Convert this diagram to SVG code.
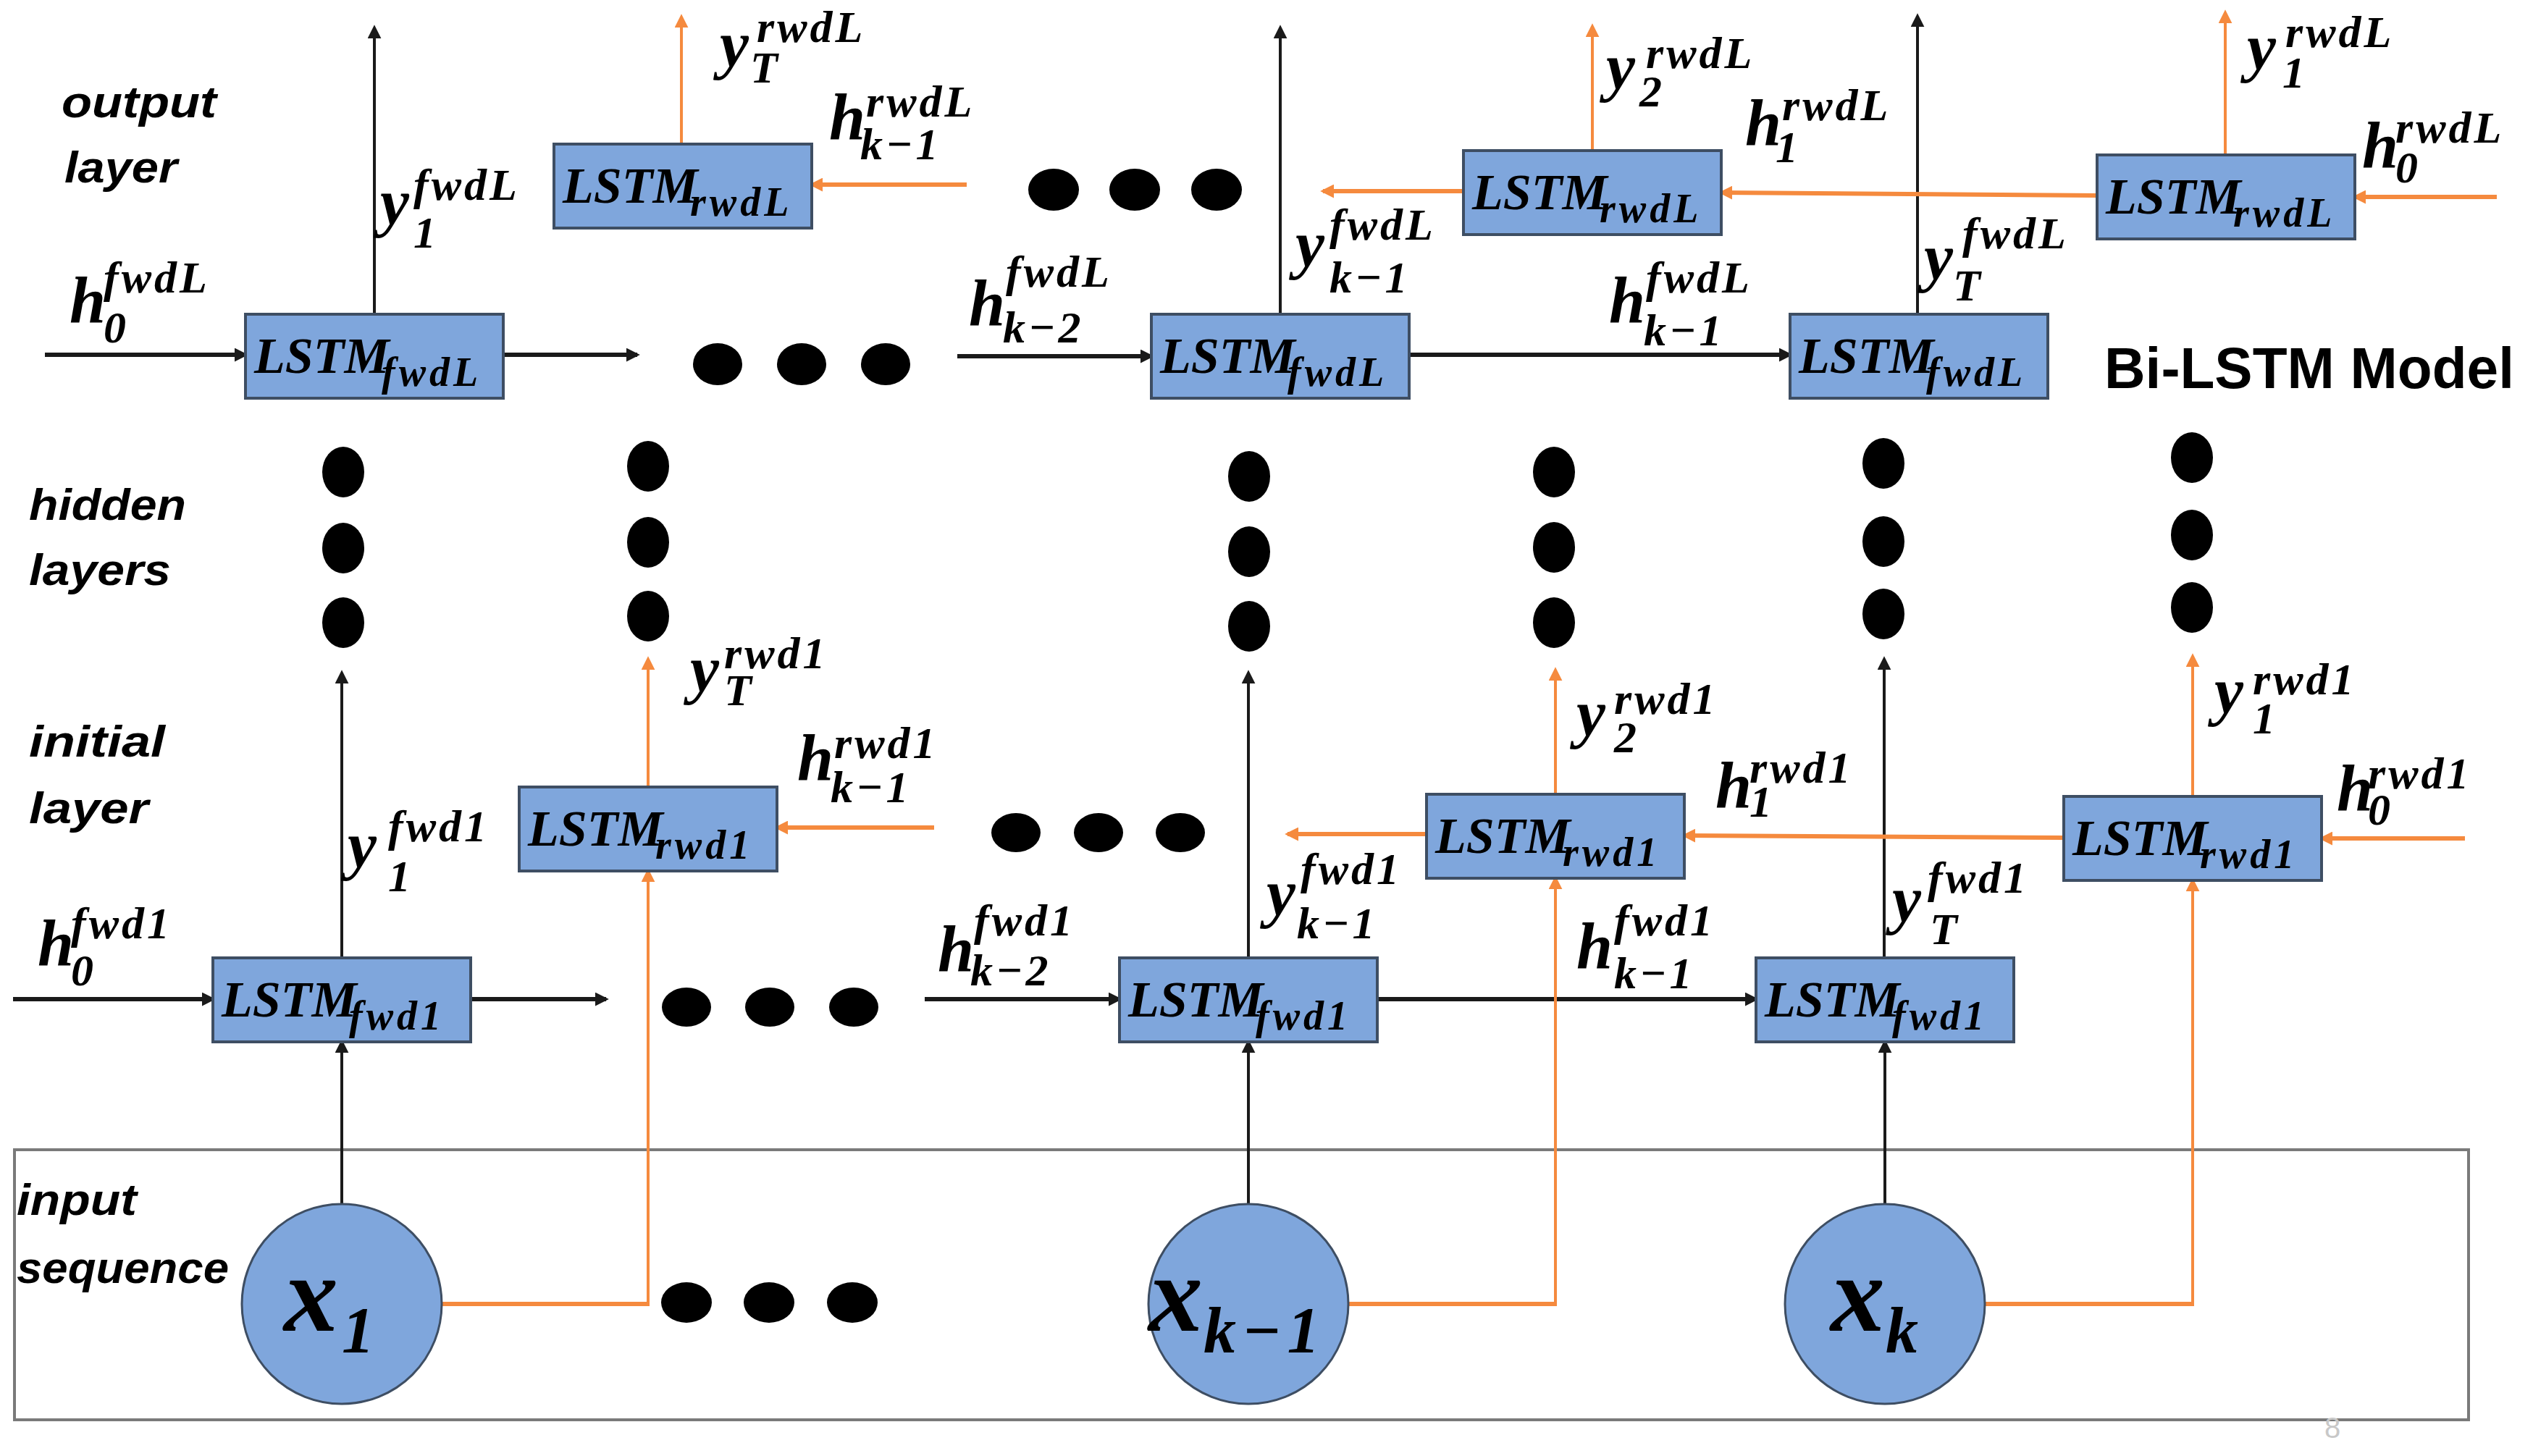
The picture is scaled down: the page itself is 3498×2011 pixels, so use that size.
<svg xmlns="http://www.w3.org/2000/svg" width="3498" height="2011" viewBox="0 0 3498 2011">
<style>
.bg{fill:#ffffff}
.box{fill:#7FA6DC;stroke:#3E4E63;stroke-width:4}
.circ{fill:#7FA6DC;stroke:#3E4E63;stroke-width:3}
.frame{fill:none;stroke:#7a7a7a;stroke-width:4}
.kh{stroke:#1a1a1a;stroke-width:6;fill:none}
.kv{stroke:#1a1a1a;stroke-width:4;fill:none}
.oh{stroke:#F58A3E;stroke-width:6;fill:none}
.ov{stroke:#F58A3E;stroke-width:4;fill:none}
.dot{fill:#000}
.bt{font-family:"Liberation Serif","DejaVu Serif",serif;font-style:italic;font-weight:bold;font-size:70px;fill:#000}
.bs{font-size:56px;letter-spacing:5px}
.m{font-family:"Liberation Serif","DejaVu Serif",serif;font-style:italic;font-weight:bold;font-size:90px;fill:#000}
.s{font-size:62px;letter-spacing:4px}
.x{font-family:"Liberation Serif","DejaVu Serif",serif;font-style:italic;font-weight:bold;font-size:150px;fill:#000}
.xs{font-size:90px;letter-spacing:8px}
.lay{font-family:"Liberation Sans","Arial",sans-serif;font-style:italic;font-weight:bold;font-size:62px;fill:#000}
.title{font-family:"Liberation Sans","Arial",sans-serif;font-weight:bold;font-size:79px;fill:#000}
.pg{font-family:"Liberation Sans",sans-serif;font-size:40px;fill:#c8c8c8}
</style>
<defs>
<marker id="ak" viewBox="0 0 10 10" refX="8" refY="5" markerWidth="19" markerHeight="19" markerUnits="userSpaceOnUse" orient="auto"><path d="M0,0 L10,5 L0,10 z" fill="#1a1a1a"/></marker>
<marker id="ao" viewBox="0 0 10 10" refX="8" refY="5" markerWidth="19" markerHeight="19" markerUnits="userSpaceOnUse" orient="auto"><path d="M0,0 L10,5 L0,10 z" fill="#F58A3E"/></marker>
</defs>
<rect class="bg" x="0" y="0" width="3498" height="2011"/>

<g id="input-frame">
<rect class="frame" x="20" y="1588" width="3389" height="373"/>
</g>

<g id="connectors">
<line class="kh" x1="62" y1="490" x2="339" y2="490" marker-end="url(#ak)"/>
<line class="kh" x1="695" y1="490" x2="880" y2="490" marker-end="url(#ak)"/>
<line class="kh" x1="1322" y1="492" x2="1590" y2="492" marker-end="url(#ak)"/>
<line class="kh" x1="1946" y1="490" x2="2472" y2="490" marker-end="url(#ak)"/>
<line class="kv" x1="517" y1="434" x2="517" y2="38" marker-end="url(#ak)"/>
<line class="kv" x1="1768" y1="434" x2="1768" y2="38" marker-end="url(#ak)"/>
<line class="kv" x1="2648" y1="434" x2="2648" y2="22" marker-end="url(#ak)"/>
<line class="oh" x1="1335" y1="255" x2="1121" y2="255" marker-end="url(#ao)"/>
<line class="oh" x1="2021" y1="264" x2="1827" y2="264" marker-end="url(#ao)"/>
<line class="oh" x1="2896" y1="270" x2="2377" y2="266" marker-end="url(#ao)"/>
<line class="oh" x1="3448" y1="272" x2="3252" y2="272" marker-end="url(#ao)"/>
<line class="ov" x1="941" y1="199" x2="941" y2="23" marker-end="url(#ao)"/>
<line class="ov" x1="2199" y1="208" x2="2199" y2="36" marker-end="url(#ao)"/>
<line class="ov" x1="3073" y1="214" x2="3073" y2="17" marker-end="url(#ao)"/>
<line class="kh" x1="18" y1="1380" x2="294" y2="1380" marker-end="url(#ak)"/>
<line class="kh" x1="650" y1="1380" x2="837" y2="1380" marker-end="url(#ak)"/>
<line class="kh" x1="1277" y1="1380" x2="1546" y2="1380" marker-end="url(#ak)"/>
<line class="kh" x1="1902" y1="1380" x2="2425" y2="1380" marker-end="url(#ak)"/>
<line class="kv" x1="472" y1="1323" x2="472" y2="929" marker-end="url(#ak)"/>
<line class="kv" x1="1724" y1="1323" x2="1724" y2="929" marker-end="url(#ak)"/>
<line class="kv" x1="2602" y1="1323" x2="2602" y2="910" marker-end="url(#ak)"/>
<line class="oh" x1="1290" y1="1143" x2="1073" y2="1143" marker-end="url(#ao)"/>
<line class="oh" x1="1970" y1="1152" x2="1778" y2="1152" marker-end="url(#ao)"/>
<line class="oh" x1="2850" y1="1157" x2="2326" y2="1154" marker-end="url(#ao)"/>
<line class="oh" x1="3404" y1="1158" x2="3206" y2="1158" marker-end="url(#ao)"/>
<line class="ov" x1="895" y1="1087" x2="895" y2="910" marker-end="url(#ao)"/>
<line class="ov" x1="2148" y1="1097" x2="2148" y2="925" marker-end="url(#ao)"/>
<line class="ov" x1="3028" y1="1100" x2="3028" y2="906" marker-end="url(#ao)"/>
<line class="kv" x1="472" y1="1663" x2="472" y2="1439" marker-end="url(#ak)"/>
<line class="kv" x1="1724" y1="1663" x2="1724" y2="1439" marker-end="url(#ak)"/>
<line class="kv" x1="2603" y1="1663" x2="2603" y2="1439" marker-end="url(#ak)"/>
<line class="oh" x1="610" y1="1801" x2="897" y2="1801"/>
<line class="ov" x1="895" y1="1803" x2="895" y2="1203" marker-end="url(#ao)"/>
<line class="oh" x1="1862" y1="1801" x2="2150" y2="1801"/>
<line class="ov" x1="2148" y1="1803" x2="2148" y2="1213" marker-end="url(#ao)"/>
<line class="oh" x1="2741" y1="1801" x2="3030" y2="1801"/>
<line class="ov" x1="3028" y1="1803" x2="3028" y2="1216" marker-end="url(#ao)"/>
</g>

<g id="dots">
<ellipse class="dot" cx="991" cy="503" rx="34" ry="29"/>
<ellipse class="dot" cx="1107" cy="503" rx="34" ry="29"/>
<ellipse class="dot" cx="1223" cy="503" rx="34" ry="29"/>
<ellipse class="dot" cx="1455" cy="262" rx="35" ry="29"/>
<ellipse class="dot" cx="1567" cy="262" rx="35" ry="29"/>
<ellipse class="dot" cx="1680" cy="262" rx="35" ry="29"/>
<ellipse class="dot" cx="948" cy="1391" rx="34" ry="27"/>
<ellipse class="dot" cx="1063" cy="1391" rx="34" ry="27"/>
<ellipse class="dot" cx="1179" cy="1391" rx="34" ry="27"/>
<ellipse class="dot" cx="1403" cy="1150" rx="34" ry="27"/>
<ellipse class="dot" cx="1517" cy="1150" rx="34" ry="27"/>
<ellipse class="dot" cx="1630" cy="1150" rx="34" ry="27"/>
<ellipse class="dot" cx="948" cy="1799" rx="35" ry="28"/>
<ellipse class="dot" cx="1062" cy="1799" rx="35" ry="28"/>
<ellipse class="dot" cx="1177" cy="1799" rx="35" ry="28"/>
<ellipse class="dot" cx="474" cy="652" rx="29" ry="35"/>
<ellipse class="dot" cx="474" cy="757" rx="29" ry="35"/>
<ellipse class="dot" cx="474" cy="860" rx="29" ry="35"/>
<ellipse class="dot" cx="895" cy="644" rx="29" ry="35"/>
<ellipse class="dot" cx="895" cy="749" rx="29" ry="35"/>
<ellipse class="dot" cx="895" cy="851" rx="29" ry="35"/>
<ellipse class="dot" cx="1725" cy="658" rx="29" ry="35"/>
<ellipse class="dot" cx="1725" cy="762" rx="29" ry="35"/>
<ellipse class="dot" cx="1725" cy="865" rx="29" ry="35"/>
<ellipse class="dot" cx="2146" cy="652" rx="29" ry="35"/>
<ellipse class="dot" cx="2146" cy="756" rx="29" ry="35"/>
<ellipse class="dot" cx="2146" cy="860" rx="29" ry="35"/>
<ellipse class="dot" cx="2601" cy="640" rx="29" ry="35"/>
<ellipse class="dot" cx="2601" cy="748" rx="29" ry="35"/>
<ellipse class="dot" cx="2601" cy="848" rx="29" ry="35"/>
<ellipse class="dot" cx="3027" cy="632" rx="29" ry="35"/>
<ellipse class="dot" cx="3027" cy="739" rx="29" ry="35"/>
<ellipse class="dot" cx="3027" cy="839" rx="29" ry="35"/>
</g>

<g id="fwdL1"><rect class="box" x="339" y="434" width="356" height="116"/><text class="bt"><tspan x="351" y="515">LSTM</tspan><tspan class="bs" x="527" y="533">fwdL</tspan></text></g>
<g id="fwdL2"><rect class="box" x="1590" y="434" width="356" height="116"/><text class="bt"><tspan x="1602" y="515">LSTM</tspan><tspan class="bs" x="1778" y="533">fwdL</tspan></text></g>
<g id="fwdL3"><rect class="box" x="2472" y="434" width="356" height="116"/><text class="bt"><tspan x="2484" y="515">LSTM</tspan><tspan class="bs" x="2660" y="533">fwdL</tspan></text></g>
<g id="rwdL1"><rect class="box" x="765" y="199" width="356" height="116"/><text class="bt"><tspan x="777" y="280">LSTM</tspan><tspan class="bs" x="953" y="298">rwdL</tspan></text></g>
<g id="rwdL2"><rect class="box" x="2021" y="208" width="356" height="116"/><text class="bt"><tspan x="2033" y="289">LSTM</tspan><tspan class="bs" x="2209" y="307">rwdL</tspan></text></g>
<g id="rwdL3"><rect class="box" x="2896" y="214" width="356" height="116"/><text class="bt"><tspan x="2908" y="295">LSTM</tspan><tspan class="bs" x="3084" y="313">rwdL</tspan></text></g>

<g id="fwd1_1"><rect class="box" x="294" y="1323" width="356" height="116"/><text class="bt"><tspan x="306" y="1404">LSTM</tspan><tspan class="bs" x="482" y="1422">fwd1</tspan></text></g>
<g id="fwd1_2"><rect class="box" x="1546" y="1323" width="356" height="116"/><text class="bt"><tspan x="1558" y="1404">LSTM</tspan><tspan class="bs" x="1734" y="1422">fwd1</tspan></text></g>
<g id="fwd1_3"><rect class="box" x="2425" y="1323" width="356" height="116"/><text class="bt"><tspan x="2437" y="1404">LSTM</tspan><tspan class="bs" x="2613" y="1422">fwd1</tspan></text></g>
<g id="rwd1_1"><rect class="box" x="717" y="1087" width="356" height="116"/><text class="bt"><tspan x="729" y="1168">LSTM</tspan><tspan class="bs" x="905" y="1186">rwd1</tspan></text></g>
<g id="rwd1_2"><rect class="box" x="1970" y="1097" width="356" height="116"/><text class="bt"><tspan x="1982" y="1178">LSTM</tspan><tspan class="bs" x="2158" y="1196">rwd1</tspan></text></g>
<g id="rwd1_3"><rect class="box" x="2850" y="1100" width="356" height="116"/><text class="bt"><tspan x="2862" y="1181">LSTM</tspan><tspan class="bs" x="3038" y="1199">rwd1</tspan></text></g>

<g id="x1"><circle class="circ" cx="472" cy="1801" r="138"/><text class="x"><tspan x="392" y="1838">x</tspan><tspan class="xs" x="472" y="1868">1</tspan></text></g>
<g id="xk-1"><circle class="circ" cx="1724" cy="1801" r="138"/><text class="x"><tspan x="1586" y="1838">x</tspan><tspan class="xs" x="1662" y="1868">k−1</tspan></text></g>
<g id="xk"><circle class="circ" cx="2603" cy="1801" r="138"/><text class="x"><tspan x="2528" y="1838">x</tspan><tspan class="xs" x="2604" y="1868">k</tspan></text></g>

<g id="labels">
<text class="m"><tspan x="994" y="92">y</tspan><tspan class="s" x="1045" y="58">rwdL</tspan><tspan class="s" x="1036" y="114">T</tspan></text>
<text class="m"><tspan x="1145" y="192">h</tspan><tspan class="s" x="1196" y="161">rwdL</tspan><tspan class="s" x="1188" y="220">k−1</tspan></text>
<text class="m"><tspan x="525" y="310">y</tspan><tspan class="s" x="571" y="276">fwdL</tspan><tspan class="s" x="571" y="342">1</tspan></text>
<text class="m"><tspan x="96" y="445">h</tspan><tspan class="s" x="143" y="404">fwdL</tspan><tspan class="s" x="143" y="473">0</tspan></text>
<text class="m"><tspan x="1338" y="449">h</tspan><tspan class="s" x="1389" y="396">fwdL</tspan><tspan class="s" x="1385" y="473">k−2</tspan></text>
<text class="m"><tspan x="1789" y="368">y</tspan><tspan class="s" x="1836" y="331">fwdL</tspan><tspan class="s" x="1836" y="404">k−1</tspan></text>
<text class="m"><tspan x="2218" y="123">y</tspan><tspan class="s" x="2273" y="94">rwdL</tspan><tspan class="s" x="2264" y="147">2</tspan></text>
<text class="m"><tspan x="2410" y="200">h</tspan><tspan class="s" x="2461" y="166">rwdL</tspan><tspan class="s" x="2452" y="224">1</tspan></text>
<text class="m"><tspan x="2222" y="445">h</tspan><tspan class="s" x="2273" y="404">fwdL</tspan><tspan class="s" x="2270" y="477">k−1</tspan></text>
<text class="m"><tspan x="2657" y="386">y</tspan><tspan class="s" x="2710" y="343">fwdL</tspan><tspan class="s" x="2697" y="415">T</tspan></text>
<text class="m"><tspan x="3103" y="96">y</tspan><tspan class="s" x="3156" y="65">rwdL</tspan><tspan class="s" x="3152" y="121">1</tspan></text>
<text class="m"><tspan x="3262" y="231">h</tspan><tspan class="s" x="3308" y="197">rwdL</tspan><tspan class="s" x="3308" y="252">0</tspan></text>

<text class="m"><tspan x="953" y="955">y</tspan><tspan class="s" x="1000" y="923">rwd1</tspan><tspan class="s" x="1000" y="974">T</tspan></text>
<text class="m"><tspan x="1101" y="1077">h</tspan><tspan class="s" x="1152" y="1047">rwd1</tspan><tspan class="s" x="1147" y="1108">k−1</tspan></text>
<text class="m"><tspan x="480" y="1198">y</tspan><tspan class="s" x="536" y="1162">fwd1</tspan><tspan class="s" x="536" y="1231">1</tspan></text>
<text class="m"><tspan x="52" y="1333">h</tspan><tspan class="s" x="98" y="1296">fwd1</tspan><tspan class="s" x="98" y="1361">0</tspan></text>
<text class="m"><tspan x="1295" y="1341">h</tspan><tspan class="s" x="1345" y="1292">fwd1</tspan><tspan class="s" x="1340" y="1361">k−2</tspan></text>
<text class="m"><tspan x="1749" y="1264">y</tspan><tspan class="s" x="1796" y="1221">fwd1</tspan><tspan class="s" x="1791" y="1296">k−1</tspan></text>
<text class="m"><tspan x="2177" y="1016">y</tspan><tspan class="s" x="2229" y="986">rwd1</tspan><tspan class="s" x="2229" y="1039">2</tspan></text>
<text class="m"><tspan x="2369" y="1115">h</tspan><tspan class="s" x="2416" y="1081">rwd1</tspan><tspan class="s" x="2416" y="1128">1</tspan></text>
<text class="m"><tspan x="2177" y="1337">h</tspan><tspan class="s" x="2229" y="1292">fwd1</tspan><tspan class="s" x="2229" y="1365">k−1</tspan></text>
<text class="m"><tspan x="2613" y="1273">y</tspan><tspan class="s" x="2662" y="1233">fwd1</tspan><tspan class="s" x="2665" y="1304">T</tspan></text>
<text class="m"><tspan x="3058" y="985">y</tspan><tspan class="s" x="3111" y="959">rwd1</tspan><tspan class="s" x="3111" y="1013">1</tspan></text>
<text class="m"><tspan x="3227" y="1119">h</tspan><tspan class="s" x="3270" y="1089">rwd1</tspan><tspan class="s" x="3270" y="1139">0</tspan></text>
</g>

<g id="layer-labels">
<text class="lay" x="85" y="162" textLength="214" lengthAdjust="spacingAndGlyphs">output</text>
<text class="lay" x="89" y="252" textLength="156" lengthAdjust="spacingAndGlyphs">layer</text>
<text class="lay" x="40" y="718" textLength="217" lengthAdjust="spacingAndGlyphs">hidden</text>
<text class="lay" x="40" y="808" textLength="196" lengthAdjust="spacingAndGlyphs">layers</text>
<text class="lay" x="40" y="1045" textLength="188" lengthAdjust="spacingAndGlyphs">initial</text>
<text class="lay" x="40" y="1137" textLength="165" lengthAdjust="spacingAndGlyphs">layer</text>
<text class="lay" x="23" y="1678" textLength="166" lengthAdjust="spacingAndGlyphs">input</text>
<text class="lay" x="23" y="1772" textLength="293" lengthAdjust="spacingAndGlyphs">sequence</text>
<text class="title" x="2906" y="536" textLength="566" lengthAdjust="spacingAndGlyphs">Bi-LSTM Model</text>
<text class="pg" x="3210" y="1986">8</text>
</g>
</svg>
